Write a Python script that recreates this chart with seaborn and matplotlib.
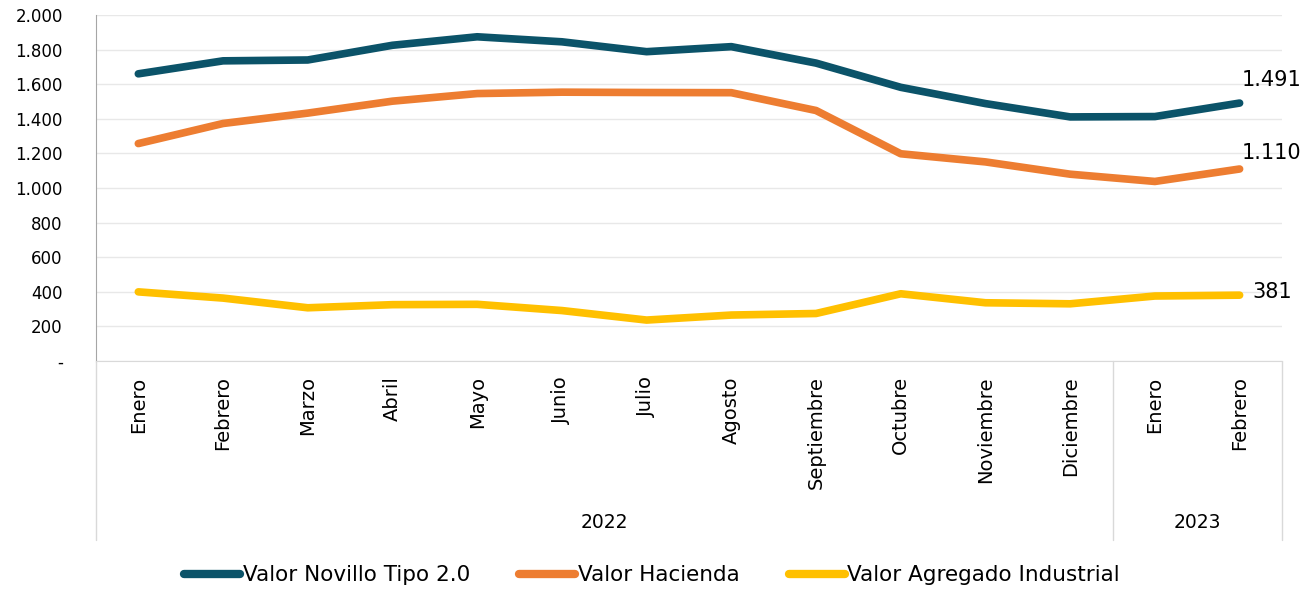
import pandas as pd
import seaborn as sns
from matplotlib import pyplot as plt
import numpy as np

# Chart data
months = ["Enero", "Febrero", "Marzo", "Abril", "Mayo", "Junio", "Julio",
          "Agosto", "Septiembre", "Octubre", "Noviembre", "Diciembre",
          "Enero", "Febrero"]
years = ["2022"] * 12 + ["2023"] * 2
novillo = [1660, 1735, 1740, 1825, 1874, 1845, 1788, 1817, 1722, 1582, 1488, 1411, 1413, 1491]
hacienda = [1257, 1373, 1433, 1502, 1546, 1554, 1552, 1551, 1448, 1198, 1151, 1080, 1038, 1110]
industrial = [400, 364, 308, 326, 328, 292, 237, 266, 275, 389, 337, 331, 376, 381]
series_names = ["Valor Novillo Tipo 2.0", "Valor Hacienda", "Valor Agregado Industrial"]
y_ticks = [0, 200, 400, 600, 800, 1000, 1200, 1400, 1600, 1800, 2000]

colors = ["#0b5369", "#ed7d31", "#ffc000"]

# long format for seaborn
rows = []
for name, vals in zip(series_names, [novillo, hacienda, industrial]):
    for i, v in enumerate(vals):
        rows.append({"pos": i, "valor": v, "serie": name})
df = pd.DataFrame(rows)

sns.set_style("white")
plt.rcParams["font.family"] = ["DejaVu Sans"]
plt.rcParams["text.color"] = "black"
plt.rcParams["xtick.color"] = "black"
plt.rcParams["ytick.color"] = "black"

fig = plt.figure(figsize=(13.04, 5.90), dpi=100)
ax = fig.add_axes([0.0736, 0.388, 0.9095, 0.5866])

sns.lineplot(data=df, x="pos", y="valor", hue="serie", palette=colors,
             linewidth=5.5, ax=ax, legend=False, solid_capstyle="round")

ax.set_xlim(-0.5, len(months) - 0.5)
ax.set_ylim(0, 2000)
ax.set_yticks(y_ticks)
ax.set_yticklabels(["-" if t == 0 else f"{t:,}".replace(",", ".") for t in y_ticks],
                   fontsize=12)
ax.set_xticks(range(len(months)))
ax.set_xticklabels(months, rotation=90, fontsize=14, va="top")
ax.tick_params(axis="y", length=0, pad=24)
ax.tick_params(axis="x", length=0, pad=11)
ax.set_xlabel("")
ax.set_ylabel("")
ax.grid(axis="y", color="#e8e8e8", linewidth=1)
ax.set_axisbelow(True)

for side in ["top", "right"]:
    ax.spines[side].set_visible(False)
ax.spines["left"].set_color("#a6a6a6")
ax.spines["bottom"].set_color("#d9d9d9")

# end-of-line labels (offsets in pixels)
for vals, off in zip([novillo, hacienda, industrial], [(2, 23), (2, 16), (13, 3)]):
    last = vals[-1]
    ax.annotate(f"{last:,}".replace(",", "."), (len(vals) - 1, last),
                xytext=off, textcoords="offset pixels",
                fontsize=15, ha="left", va="center", annotation_clip=False)

# year group separators and labels below the axis
trans = ax.get_xaxis_transform()
for xs in [-0.5, 11.5, len(months) - 0.5]:
    ax.plot([xs, xs], [0, -0.517], transform=trans, color="#d9d9d9",
            linewidth=1, clip_on=False)
ax.text(5.5, -0.465, "2022", transform=trans, ha="center", va="center", fontsize=13.5)
ax.text(12.5, -0.465, "2023", transform=trans, ha="center", va="center", fontsize=13.5)

handles = [plt.Line2D([], [], color=c, linewidth=6, solid_capstyle="round") for c in colors]
fig.legend(handles, series_names, loc="center", bbox_to_anchor=(0.5, 0.025), ncol=3,
           frameon=False, fontsize=15.5, handlelength=2.6, handletextpad=0.1,
           columnspacing=2.3)

fig.savefig("out.png", dpi=100)
